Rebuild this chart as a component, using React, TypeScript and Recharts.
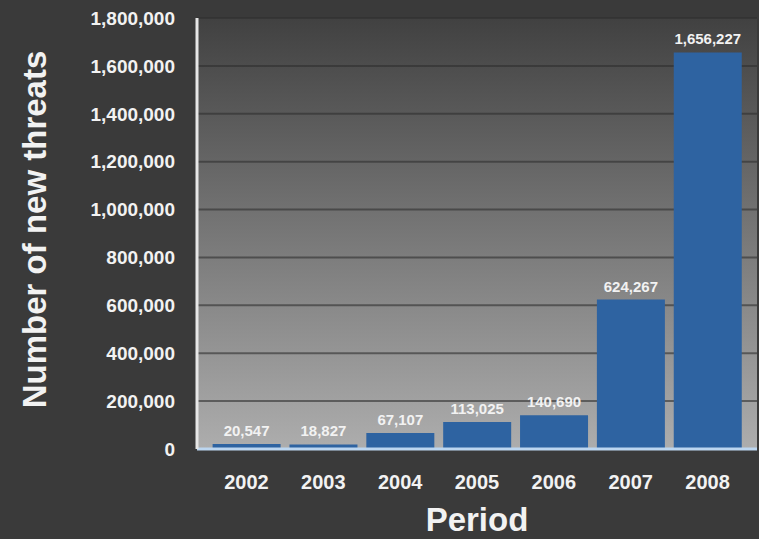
import { BarChart, Bar, XAxis, YAxis, CartesianGrid, LabelList } from "recharts";

const years = ["2002", "2003", "2004", "2005", "2006", "2007", "2008"];
const threats = [20547, 18827, 67107, 113025, 140690, 624267, 1656227];
const yTicks = [0, 200000, 400000, 600000, 800000, 1000000, 1200000, 1400000, 1600000, 1800000];

const chartData = years.map((year, i) => ({ year, threats: threats[i] }));

const FONT = '"Liberation Sans", Arial, Helvetica, sans-serif';
const fmt = (v: number) => Number(v).toLocaleString("en-US");

const YTitle = (props: any) => {
  const { viewBox } = props;
  const cx = viewBox.x + 34;
  const cy = viewBox.y + viewBox.height / 2 - 4;
  return (
    <text
      x={cx}
      y={cy}
      transform={`rotate(-90, ${cx}, ${cy})`}
      textAnchor="middle"
      dominantBaseline="central"
      fill="#f2f2f2"
      fontFamily={FONT}
      fontWeight="bold"
      fontSize={33}
    >
      Number of new threats
    </text>
  );
};

const XTitle = (props: any) => {
  const { viewBox } = props;
  return (
    <text
      x={viewBox.x + viewBox.width / 2}
      y={viewBox.y + 82}
      textAnchor="middle"
      fill="#f2f2f2"
      fontFamily={FONT}
      fontWeight="bold"
      fontSize={33}
    >
      Period
    </text>
  );
};

export default function App() {
  return (
    <div
      style={{
        position: "absolute",
        left: 0,
        top: 0,
        width: 759,
        height: 539,
        background: "#3a3a3a",
      }}
    >
      <BarChart
        width={759}
        height={539}
        data={chartData}
        margin={{ top: 18, right: 2, bottom: 0, left: 0 }}
        barCategoryGap="6%"
      >
        <defs>
          <linearGradient id="plotBg" x1="0" y1="0" x2="0" y2="1">
            <stop offset="0%" stopColor="#414141" />
            <stop offset="100%" stopColor="#adadad" />
          </linearGradient>
        </defs>
        <CartesianGrid
          vertical={false}
          fill="url(#plotBg)"
          stroke="#2e2e2e"
          strokeOpacity={0.6}
          strokeWidth={2}
        />
        <XAxis
          dataKey="year"
          height={90}
          padding={{ left: 11, right: 11 }}
          tickLine={false}
          tickMargin={20}
          axisLine={{ stroke: "#bcd6f0", strokeWidth: 3 }}
          tick={{ fill: "#f2f2f2", fontSize: 20, fontWeight: "bold", fontFamily: FONT }}
          label={<XTitle />}
        />
        <YAxis
          width={197}
          domain={[0, 1800000]}
          ticks={yTicks}
          interval={0}
          tickLine={false}
          tickMargin={16}
          tickFormatter={fmt}
          axisLine={{ stroke: "#e6e6e6", strokeWidth: 3 }}
          tick={{ fill: "#f2f2f2", fontSize: 19, fontWeight: "bold", fontFamily: FONT }}
          label={<YTitle />}
        />
        <Bar dataKey="threats" fill="#2e63a1" isAnimationActive={false}>
          <LabelList
            dataKey="threats"
            position="top"
            offset={8}
            formatter={fmt}
            fill="#f2f2f2"
            fontSize={15}
            fontWeight="bold"
            fontFamily={FONT}
          />
        </Bar>
      </BarChart>
    </div>
  );
}
